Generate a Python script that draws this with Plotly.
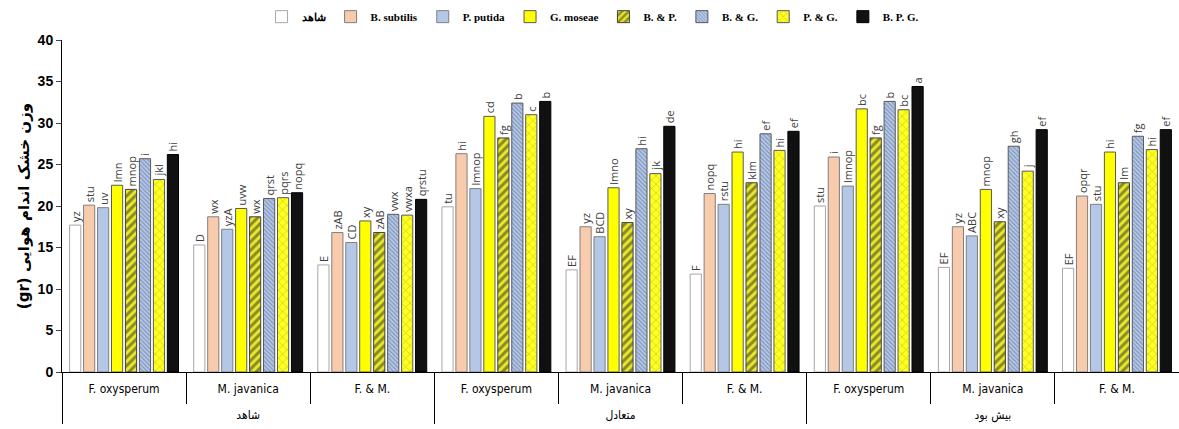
import plotly.graph_objects as go

# ---- data ----
outer = ["شاهد"] * 3 + ["متعادل"] * 3 + ["بیش بود"] * 3
inner = ["F. oxysperum", "M. javanica", "F. & M."] * 3

series_names = ["شاهد", "B. subtilis", "P. putida", "G. moseae",
                "B. & P.", "B. & G.", "P. & G.", "B. P. G."]

v_control = [17.7, 15.3, 12.9, 19.9, 12.3, 11.8, 20.0, 12.6, 12.5]
v_bsub = [20.1, 18.7, 16.8, 26.3, 17.5, 21.5, 25.9, 17.5, 21.2]
v_pput = [19.8, 17.2, 15.6, 22.1, 16.3, 20.2, 22.4, 16.4, 20.2]
v_gmos = [22.5, 19.7, 18.2, 30.8, 22.2, 26.5, 31.7, 22.0, 26.5]
v_bp = [22.0, 18.7, 16.8, 28.2, 18.0, 22.8, 28.2, 18.1, 22.8]
v_bg = [25.7, 20.9, 19.0, 32.4, 26.9, 28.7, 32.6, 27.2, 28.4]
v_pg = [23.2, 21.0, 18.9, 31.0, 23.9, 26.7, 31.6, 24.2, 26.8]
v_bpg = [26.2, 21.6, 20.8, 32.6, 29.6, 29.0, 34.4, 29.2, 29.2]

l_control = ["yz", "D", "E", "tu", "EF", "F", "stu", "EF", "EF"]
l_bsub = ["stu", "wx", "zAB", "hi", "yz", "nopq", "i", "yz", "opqr"]
l_pput = ["uv", "yzA", "CD", "lmnop", "BCD", "rstu", "lmnop", "ABC", "stu"]
l_gmos = ["lmn", "uvw", "xy", "cd", "lmno", "hi", "bc", "mnop", "hi"]
l_bp = ["mnop", "wx", "zAB", "fg", "xy", "klm", "fg", "xy", "lm"]
l_bg = ["i", "qrst", "vwx", "b", "hi", "ef", "b", "gh", "fg"]
l_pg = ["jkl", "pqrs", "vwxa", "c", "jk", "hi", "bc", "j", "hi"]
l_bpg = ["hi", "nopq", "qrstu", "b", "de", "ef", "a", "ef", "ef"]

y_ticks = [0, 5, 10, 15, 20, 25, 30, 35, 40]
y_title = "(gr) وزن خشک اندام هوایی"

values = [v_control, v_bsub, v_pput, v_gmos, v_bp, v_bg, v_pg, v_bpg]
labels = [l_control, l_bsub, l_pput, l_gmos, l_bp, l_bg, l_pg, l_bpg]

# outer labels pushed one line lower, as in the reference table
outer_disp = ["<br>" + s for s in outer]

styles = [
    dict(color="#FFFFFF", line="#A6A6A6", pattern=None),
    dict(color="#F8CBAD", line="#7F7F7F", pattern=None),
    dict(color="#B4C7E7", line="#7F7F7F", pattern=None),
    dict(color="#FFFF00", line="#595959", pattern=None),
    dict(color="#FFFF00", line="#404040",
         pattern=dict(shape="/", fgcolor="#2B2B10", bgcolor="#E8E830", size=6, solidity=0.5)),
    dict(color="#B4C7E7", line="#595959",
         pattern=dict(shape="\\", fgcolor="#44597F", bgcolor="#B4C7E7", size=3, solidity=0.35)),
    dict(color="#FFFF00", line="#595959",
         pattern=dict(shape="x", fgcolor="#8C8C2A", bgcolor="#FFFF20", size=6, solidity=0.2)),
    dict(color="#111111", line="#000000", pattern=None),
]

fig = go.Figure()
for name, vals, labs, st in zip(series_names, values, labels, styles):
    marker = dict(color=st["color"], line=dict(color=st["line"], width=1))
    if st["pattern"] is not None:
        marker["pattern"] = st["pattern"]
    fig.add_trace(go.Bar(
        x=[outer_disp, inner], y=vals, name=name, marker=marker,
        text=labs, textposition="outside", textangle=-90,
        constraintext="none", cliponaxis=False,
        textfont=dict(family="Open Sans, DejaVu Sans", size=11, color="#404040"),
    ))

fig.update_layout(
    width=1179, height=429,
    barmode="group", bargap=0.1, bargroupgap=0.2,
    plot_bgcolor="white", paper_bgcolor="white",
    margin=dict(l=62, r=0, t=40, b=57, autoexpand=False),
    legend=dict(orientation="h", x=0.475, xanchor="center", y=0.995, yanchor="top",
                yref="container",
                font=dict(family="Liberation Serif, DejaVu Serif", size=11, weight="bold"),
                itemwidth=30, tracegroupgap=0),
    showlegend=True,
    font=dict(family="Liberation Sans, DejaVu Sans", color="black"),
)

fig.update_yaxes(
    range=[0, 40], tickvals=y_ticks, showgrid=False, zeroline=False,
    showline=True, linecolor="black", linewidth=1, ticks="outside", ticklen=5,
    automargin=False,
    tickfont=dict(family="Liberation Sans, DejaVu Sans", size=14, weight="bold"),
    title=dict(text=y_title, standoff=4,
               font=dict(family="DejaVu Sans", size=15, weight="bold")),
)
fig.update_xaxes(
    showline=True, linecolor="black", linewidth=1, showgrid=False,
    ticks="outside", ticklen=31, tickcolor="black", automargin=False,
    ticklabelstandoff=6,
    showdividers=True, dividercolor="black", dividerwidth=1,
    tickfont=dict(family="Liberation Sans Narrow, DejaVu Sans Condensed, DejaVu Sans", size=12),
)

fig.write_html("out.html", config={"displayModeBar": False},
               post_script="document.body.style.margin='0';")
